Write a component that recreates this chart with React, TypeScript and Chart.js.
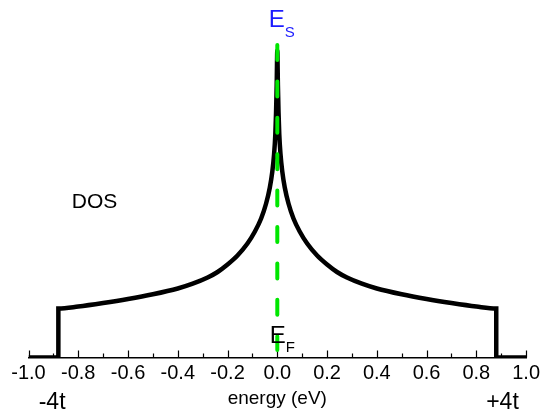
import { useEffect, useRef } from "react";
import { Chart, registerables } from "chart.js";

Chart.register(...registerables);

// Density of states of the 2D square lattice (band from -4t to +4t)
const ENERGY = [
  -1.0, -0.88, -0.88, -0.8, -0.7, -0.6, -0.5, -0.4, -0.34, -0.28, -0.24, -0.2, -0.16, -0.12, -0.09, -0.065,
  -0.045, -0.03, -0.02, -0.013, -0.008, -0.005, -0.0025, 0,
  0.0025, 0.005, 0.008, 0.013, 0.02, 0.03, 0.045, 0.065, 0.09, 0.12, 0.16, 0.2, 0.24, 0.28, 0.34, 0.4,
  0.5, 0.6, 0.7, 0.8, 0.88, 0.88, 1.0,
];
const DOS = [
  0, 0, 0.49, 0.51, 0.545, 0.585, 0.632, 0.69, 0.738, 0.8, 0.855, 0.93, 1.02, 1.14, 1.26, 1.39,
  1.54, 1.7, 1.86, 2.03, 2.23, 2.45, 2.72, 3.07,
  2.72, 2.45, 2.23, 2.03, 1.86, 1.7, 1.54, 1.39, 1.26, 1.14, 1.02, 0.93, 0.855, 0.8, 0.738, 0.69,
  0.632, 0.585, 0.545, 0.51, 0.49, 0, 0,
];

// Fermi level marker (vertical dashed line)
const FERMI_ENERGY = [0, 0];
const FERMI_DOS = [3.125, 0.075];

const X_TICKS = [-1.0, -0.8, -0.6, -0.4, -0.2, 0.0, 0.2, 0.4, 0.6, 0.8, 1.0];
const X_TICK_LABELS = ["-1.0", "-0.8", "-0.6", "-0.4", "-0.2", "0.0", "0.2", "0.4", "0.6", "0.8", "1.0"];
const X_MINOR_TICKS = [-0.9, -0.7, -0.5, -0.3, -0.1, 0.1, 0.3, 0.5, 0.7, 0.9];

const BAND_EDGE_LABELS = ["-4t", "+4t"];
const BAND_EDGE_LABEL_X = [-0.905, 0.905];

const FONT = "'Liberation Sans', Arial, sans-serif";
const Y_MAX = 3.3;

const axisTicksPlugin = {
  id: "axisTicks",
  beforeDatasetsDraw(chart: any) {
    const { ctx, chartArea, scales } = chart;
    const x = scales.x;
    const y0 = chartArea.bottom;
    ctx.save();
    ctx.strokeStyle = "#000";
    ctx.lineWidth = 1.2;
    ctx.beginPath();
    X_TICKS.forEach((v) => {
      const px = Math.round(x.getPixelForValue(v)) + 0.5;
      ctx.moveTo(px, y0);
      ctx.lineTo(px, y0 - 7);
    });
    X_MINOR_TICKS.forEach((v) => {
      const px = Math.round(x.getPixelForValue(v)) + 0.5;
      ctx.moveTo(px, y0);
      ctx.lineTo(px, y0 - 4);
    });
    ctx.stroke();
    ctx.restore();
  },
};

const labelsPlugin = {
  id: "levelLabels",
  afterDraw(chart: any) {
    const { ctx, chartArea, scales } = chart;
    const x = scales.x;
    const y = scales.y;
    const x0 = x.getPixelForValue(0);
    ctx.save();
    ctx.textBaseline = "alphabetic";
    ctx.textAlign = "left";

    // E_S above the van Hove peak
    ctx.fillStyle = "#1c1cff";
    ctx.font = `24px ${FONT}`;
    ctx.fillText("E", x0 - 8.5, chartArea.top - 0.5);
    ctx.font = `15px ${FONT}`;
    ctx.fillText("S", x0 + 7.5, chartArea.top + 9.5);

    // E_F at the Fermi level
    ctx.fillStyle = "#000";
    ctx.font = `24px ${FONT}`;
    ctx.fillText("E", x0 - 7.5, chartArea.bottom - 14.5);
    ctx.font = `15px ${FONT}`;
    ctx.fillText("F", x0 + 8.5, chartArea.bottom - 5.5);

    // DOS label
    ctx.font = `21px ${FONT}`;
    ctx.fillText("DOS", x.getPixelForValue(-0.826), y.getPixelForValue(1.5));

    // band edges
    ctx.font = `23px ${FONT}`;
    ctx.textAlign = "center";
    BAND_EDGE_LABELS.forEach((t, i) => {
      ctx.fillText(t, x.getPixelForValue(BAND_EDGE_LABEL_X[i]), chartArea.bottom + 51.5);
    });
    ctx.restore();
  },
};

export default function App() {
  const canvasRef = useRef<HTMLCanvasElement | null>(null);

  useEffect(() => {
    document.body.style.margin = "0";
    const canvas = canvasRef.current;
    if (!canvas) return;
    Chart.defaults.font.family = FONT;
    const chart = new Chart(canvas, {
      type: "line",
      data: {
        datasets: [
          {
            label: "Fermi level",
            data: FERMI_ENERGY.map((e, i) => ({ x: e, y: FERMI_DOS[i] })),
            borderColor: "#00e600",
            borderWidth: 4,
            borderDash: [15, 21.4],
            borderCapStyle: "round",
            pointRadius: 0,
            order: 0,
          },
          {
            label: "DOS",
            data: ENERGY.map((e, i) => ({ x: e, y: DOS[i] })),
            borderColor: "#000",
            borderWidth: 4.5,
            cubicInterpolationMode: "monotone",
            pointRadius: 0,
            order: 1,
          },
        ],
      },
      options: {
        animation: false,
        responsive: true,
        maintainAspectRatio: false,
        layout: { padding: { top: 27.5, left: 28.5, right: 15.5, bottom: 0 } },
        plugins: { legend: { display: false }, tooltip: { enabled: false } },
        scales: {
          x: {
            type: "linear",
            min: -1,
            max: 1,
            afterBuildTicks: (scale: any) => {
              scale.ticks = X_TICKS.map((v) => ({ value: v }));
            },
            afterFit: (scale: any) => {
              scale.height = 59.5;
            },
            ticks: {
              callback: (_v: any, i: number) => X_TICK_LABELS[i],
              font: { size: 20, family: FONT },
              color: "#000",
              padding: 4,
              maxRotation: 0,
              autoSkip: false,
            },
            grid: { display: false, drawTicks: false },
            border: { display: true, color: "#000", width: 1.5 },
            title: {
              display: true,
              text: "energy (eV)",
              font: { size: 19, family: FONT },
              color: "#000",
              padding: { top: 0, bottom: 7 },
            },
          },
          y: {
            display: false,
            min: 0,
            max: Y_MAX,
          },
        },
      },
      plugins: [axisTicksPlugin, labelsPlugin],
    });
    return () => chart.destroy();
  }, []);

  return (
    <div style={{ position: "relative", width: 544, height: 417 }}>
      <canvas ref={canvasRef} />
    </div>
  );
}
